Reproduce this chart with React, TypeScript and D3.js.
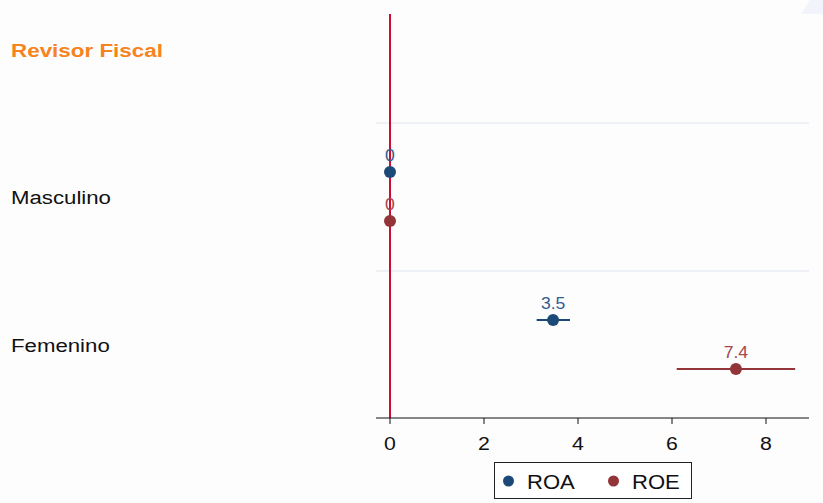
import React from "react";
import * as d3 from "d3";

const header = "Revisor Fiscal";
const categories = ["Masculino", "Femenino"];
const seriesNames = ["ROA", "ROE"];
const roaValues = [0, 3.47];
const roaLow = [0, 3.12];
const roaHigh = [0, 3.83];
const roeValues = [0, 7.36];
const roeLow = [0, 6.1];
const roeHigh = [0, 8.62];
const roaLabels = ["0", "3.5"];
const roeLabels = ["0", "7.4"];
const xTicks = [0, 2, 4, 6, 8];

const W = 823;
const H = 503;
const colors = ["#1c4a78", "#933439"];
const labelColors = ["#2f5f8f", "#a5454d"];
const font = "Liberation Sans, Arial, sans-serif";

type TProps = {
  x: number;
  y: number;
  size: number;
  sx?: number;
  fill: string;
  anchor?: "start" | "middle" | "end";
  weight?: string;
  children: React.ReactNode;
};

function SText({ x, y, size, sx = 1.14, fill, anchor = "start", weight = "normal", children }: TProps) {
  return (
    <text
      transform={`translate(${x},${y}) scale(${sx},1)`}
      textAnchor={anchor}
      fontFamily={font}
      fontSize={size}
      fontWeight={weight}
      fill={fill}
    >
      {children}
    </text>
  );
}

export default function App() {
  const x = d3.scaleLinear().domain([0, 8]).range([390, 766]);
  const bands = ["__header", ...categories];
  const y = d3.scaleBand().domain(bands).range([-25, 419]).padding(0);
  const yc = (c: string) => (y(c) as number) + y.bandwidth() / 2;
  const off = [-25, 24];
  const series = [
    { name: seriesNames[0], v: roaValues, lo: roaLow, hi: roaHigh, lab: roaLabels },
    { name: seriesNames[1], v: roeValues, lo: roeLow, hi: roeHigh, lab: roeLabels },
  ];
  const axisY = 418;
  return (
    <svg width={W} height={H} style={{ position: "absolute", left: 0, top: 0, background: "#fdfdfd" }}>
      <rect x={0} y={0} width={W} height={H} fill="#fdfdfd" />
      <polygon points="801,14 823,14 823,0 810,0" fill="#f1f4fa" />
      {categories.map((c) => (
        <line key={c} x1={376} x2={809} y1={y(c) as number} y2={y(c) as number} stroke="#e9eef3" strokeWidth={1.5} />
      ))}
      <SText x={11} y={yc("__header") + 7.5} size={19} sx={1.18} weight="bold" fill="#f7831e">
        {header}
      </SText>
      {categories.map((c) => (
        <SText key={c} x={11} y={yc(c) + 7} size={19} sx={1.17} fill="#111">
          {c}
        </SText>
      ))}
      <line x1={x(0)} x2={x(0)} y1={14} y2={axisY} stroke="#d00c35" strokeWidth={2} />
      {series.map((s, si) =>
        categories.map((c, ci) => {
          const cy = yc(c) + off[si];
          return (
            <g key={s.name + c}>
              {s.hi[ci] > s.lo[ci] && (
                <line x1={x(s.lo[ci])} x2={x(s.hi[ci])} y1={cy} y2={cy} stroke={colors[si]} strokeWidth={2} />
              )}
              <circle cx={x(s.v[ci])} cy={cy} r={6} fill={colors[si]} />
              <SText x={x(s.v[ci])} y={cy - 11.5} size={16} sx={1.1} anchor="middle" fill={labelColors[si]}>
                {s.lab[ci]}
              </SText>
            </g>
          );
        })
      )}
      <line x1={376} x2={809} y1={axisY} y2={axisY} stroke="#111" strokeWidth={1} />
      {xTicks.map((t) => (
        <g key={t}>
          <line x1={x(t)} x2={x(t)} y1={axisY} y2={axisY + 6} stroke="#111" strokeWidth={1} />
          <SText x={x(t)} y={axisY + 32} size={19} sx={1.12} anchor="middle" fill="#111">
            {t}
          </SText>
        </g>
      ))}
      <rect x={494.5} y={462.5} width={197} height={36} fill="#fff" stroke="#222" strokeWidth={1} />
      {seriesNames.map((n, i) => (
        <g key={n}>
          <circle cx={508.5 + i * 105} cy={481} r={5.5} fill={colors[i]} />
          <SText x={527 + i * 105} y={489} size={21} sx={1.05} fill="#111">
            {n}
          </SText>
        </g>
      ))}
    </svg>
  );
}
